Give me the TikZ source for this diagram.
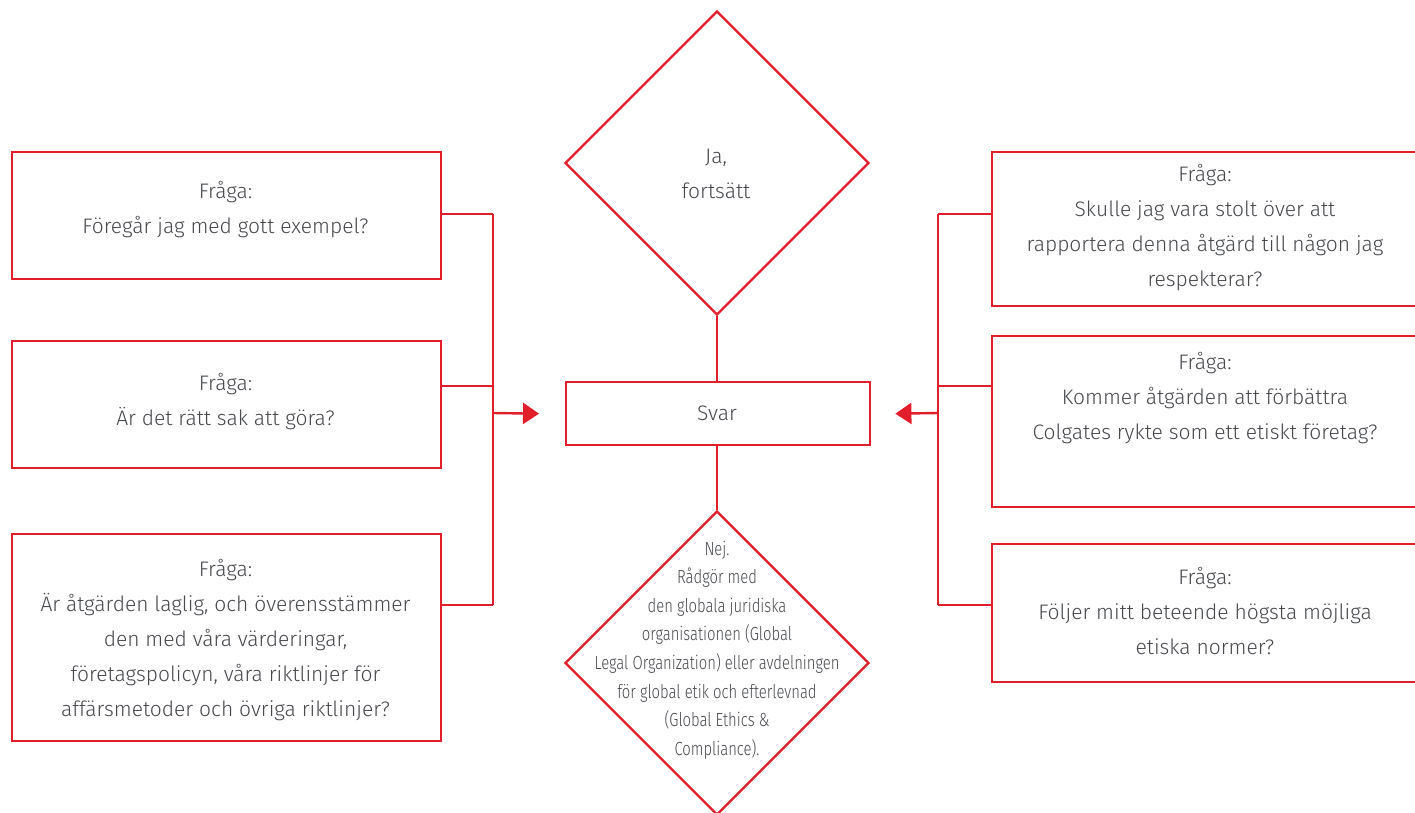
\documentclass[tikz,border=0pt]{standalone}
\usepackage{fontspec}
\setmainfont{Fira Sans}[UprightFont=* Light]
\newfontfamily\condfont{Fira Sans}[UprightFont=* Light, FakeStretch=0.78]
\usetikzlibrary{arrows.meta,shapes.geometric}
\definecolor{cred}{HTML}{E31E2B}
\definecolor{cgray}{HTML}{46484C}
\tikzset{
  box/.style={draw=cred, line width=2.4pt, rectangle, inner sep=0pt, anchor=north west},
  dia/.style={draw=cred, line width=2.4pt, diamond, inner sep=0pt, minimum width=304pt, minimum height=304pt},
  txt/.style={text=cgray, align=center, inner sep=0pt, font=\fontsize{21}{35}\selectfont},
  smalltxt/.style={text=cgray, align=center, inner sep=0pt, font=\condfont\fontsize{19}{28.6}\selectfont},
  conn/.style={draw=cred, line width=2.4pt},
  arr/.style={draw=cred, line width=2.4pt, -{Triangle[length=16pt,width=21pt]}}
}
\begin{document}
\begin{tikzpicture}[x=1pt,y=-1pt]
\useasboundingbox (0,0) rectangle (1415,813);
\clip (0,0) rectangle (1415,813);
% left boxes
\node[box, minimum width=429pt, minimum height=127pt] (lb1) at (11,151) {};
\node[box, minimum width=429pt, minimum height=127pt] (lb2) at (11,340) {};
\node[box, minimum width=429pt, minimum height=207pt] (lb3) at (11,533) {};
% right boxes
\node[box, minimum width=460pt, minimum height=154pt] (rb1) at (991,151) {};
\node[box, minimum width=460pt, minimum height=171pt] (rb2) at (991,335) {};
\node[box, minimum width=460pt, minimum height=138pt] (rb3) at (991,543) {};
% center
\node[dia] (top) at (717,163) {};
\node[box, minimum width=304pt, minimum height=63pt] (svar) at (565,381) {};
\node[dia] (bot) at (717,663) {};
% texts
\node[txt] (t1) at (225.5,210) {Fråga:\\Föregår jag med gott exempel?};
\node[txt] (t2) at (225.5,402) {Fråga:\\Är det rätt sak att göra?};
\node[txt] (t3) at (225.5,640) {Fråga:\\Är åtgärden laglig, och överensstämmer\\den med våra värderingar,\\företagspolicyn, våra riktlinjer för\\affärsmetoder och övriga riktlinjer?};
\node[txt] (t4) at (1205,228) {Fråga:\\Skulle jag vara stolt över att\\rapportera denna åtgärd till någon jag\\respekterar?};
\node[txt] (t5) at (1205,398) {Fråga:\\Kommer åtgärden att förbättra\\Colgates rykte som ett etiskt företag?};
\node[txt] (t6) at (1205,611) {Fråga:\\Följer mitt beteende högsta möjliga\\etiska normer?};
\node[txt] (t7) at (716,174) {Ja,\\fortsätt};
\node[txt] (t8) at (717,413) {Svar};
\node[smalltxt] (t9) at (717,650) {Nej.\\Rådgör med\\den globala juridiska\\organisationen (Global\\Legal Organization) eller avdelningen\\för global etik och efterlevnad\\(Global Ethics \&\\Compliance).};
% bus coordinates
\coordinate (L1) at (493,214);
\coordinate (L2) at (493,386);
\coordinate (L3) at (493,605);
\coordinate (LM) at (493,413);
\coordinate (R1) at (938,214);
\coordinate (R2) at (938,386);
\coordinate (R3) at (938,605);
\coordinate (RM) at (938,413);
% connectors
\draw[conn] (lb1.east |- L1) -- (L1);
\draw[conn] (lb2.east |- L2) -- (L2);
\draw[conn] (lb3.east |- L3) -- (L3);
\draw[conn] (L1) -- (L3);
\draw[arr] (LM) -- ([xshift=-26pt]svar.west);
\draw[conn] (rb1.west |- R1) -- (R1);
\draw[conn] (rb2.west |- R2) -- (R2);
\draw[conn] (rb3.west |- R3) -- (R3);
\draw[conn] (R1) -- (R3);
\draw[arr] (RM) -- ([xshift=24pt]svar.east);
\draw[conn] (top.south) -- (top.south |- svar.north);
\draw[conn] (svar.south -| bot.north) -- (bot.north);
\end{tikzpicture}
\end{document}
